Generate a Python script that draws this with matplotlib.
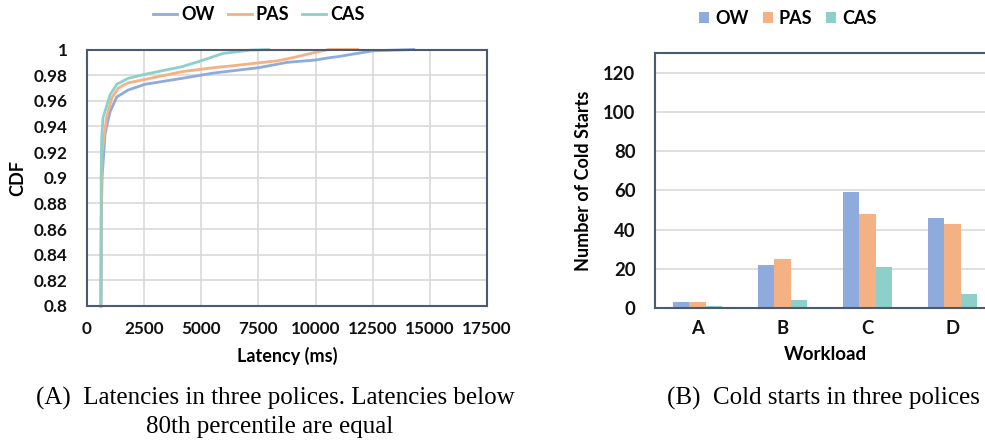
import matplotlib
matplotlib.use("Agg")
import matplotlib.pyplot as plt
from matplotlib.lines import Line2D
from matplotlib.patches import Patch

# ---------------- data ----------------
policies = ["OW", "PAS", "CAS"]
colors = ["#8faadc", "#f4b183", "#8dd0c9"]

ow_latency = [610, 630, 658, 790, 921, 1009, 1303, 1798, 2544, 4154, 5526, 7500, 8772, 10000, 10570, 10965, 11842, 12544, 14298]
ow_cdf = [0.80, 0.87, 0.90, 0.934, 0.945, 0.9515, 0.963, 0.9684, 0.9729, 0.9775, 0.9816, 0.9858, 0.990, 0.9918, 0.9935, 0.9944, 0.997, 0.999, 1.0]

pas_latency = [610, 625, 660, 864, 1083, 1373, 1800, 2544, 4154, 5526, 6404, 8377, 8991, 10000, 10570, 11842]
pas_cdf = [0.80, 0.87, 0.92, 0.9476, 0.962, 0.970, 0.974, 0.9767, 0.9827, 0.9858, 0.9874, 0.9913, 0.9936, 0.9978, 1.0, 1.0]

cas_latency = [610, 620, 640, 702, 1009, 1303, 1798, 2544, 4154, 4868, 5526, 5965, 7150, 7939]
cas_cdf = [0.80, 0.90, 0.93, 0.947, 0.9645, 0.9729, 0.9775, 0.9807, 0.9866, 0.9905, 0.9944, 0.997, 0.9995, 1.0]

workloads = ["A", "B", "C", "D"]
ow_cold = [3, 22, 59, 46]
pas_cold = [3, 25, 48, 43]
cas_cold = [1, 4, 21, 7]

# ---------------- figure ----------------
W, H = 985, 443
fig = plt.figure(figsize=(W / 100, H / 100), dpi=100)
sans = ["Lato", "DejaVu Sans"]
serif = ["Liberation Serif", "DejaVu Serif"]
spine_c = "#4b5a70"
grid_c = "#d9d9d9"

def fx(px):
    return px / W

def fy(py):
    return 1 - py / H

# ---- left: CDF ----
ax1 = fig.add_axes([fx(87), fy(306), fx(487) - fx(87), fy(49.5) - fy(306)])
for lat, cdf, c in zip([ow_latency, pas_latency, cas_latency], [ow_cdf, pas_cdf, cas_cdf], colors):
    ax1.plot(lat, cdf, color=c, lw=2.0, clip_on=False, zorder=2)
ax1.set_xlim(0, 17500)
ax1.set_ylim(0.8, 1.0)
ax1.set_xticks(range(0, 17501, 2500))
yt = [0.8 + 0.02 * i for i in range(11)]
ax1.set_yticks(yt)
ax1.set_yticklabels(["0.8", "0.82", "0.84", "0.86", "0.88", "0.9", "0.92", "0.94", "0.96", "0.98", "1"])
ax1.grid(True, color=grid_c, lw=1.2, zorder=0)
ax1.set_axisbelow(True)
ax1.tick_params(length=0, labelsize=12.3, colors="#111111")
ax1.tick_params(axis="y", pad=14)
ax1.tick_params(axis="x", pad=11)
for lab in ax1.get_xticklabels() + ax1.get_yticklabels():
    lab.set_fontweight("bold")
    lab.set_family(sans)
for s in ax1.spines.values():
    s.set_color(spine_c)
    s.set_linewidth(1.5)
    s.set_zorder(3)
ax1.set_xlabel("Latency (ms)", fontsize=13, fontweight="bold", family=sans, labelpad=7)
ax1.set_ylabel("CDF", fontsize=13, fontweight="bold", family=sans, labelpad=5)

handles1 = [Line2D([0], [0], color=c, lw=2.0) for c in colors]
fig.legend(handles1, policies, loc="center", bbox_to_anchor=(fx(259), fy(15)), ncol=3, frameon=False,
           prop={"family": sans, "weight": "bold", "size": 13}, handlelength=1.33, handletextpad=0.22,
           columnspacing=0.72)

# ---- right: bars ----
ax2 = fig.add_axes([fx(655), fy(308), fx(995) - fx(655), fy(53) - fy(308)])
x = list(range(len(workloads)))
bw = 0.19
for i, (vals, c) in enumerate(zip([ow_cold, pas_cold, cas_cold], colors)):
    ax2.bar([xi + (i - 1) * bw for xi in x], vals, width=bw, color=c, zorder=2)
ax2.set_xlim(-0.5, 3.5)
ax2.set_ylim(0, 130)
ax2.set_yticks(range(0, 121, 20))
ax2.set_xticks(x)
ax2.set_xticklabels(workloads)
ax2.yaxis.grid(True, color=grid_c, lw=1.2, zorder=0)
ax2.set_axisbelow(True)
ax2.tick_params(length=0, labelsize=13.3, colors="#111111")
ax2.tick_params(axis="y", pad=14)
ax2.tick_params(axis="x", pad=9)
for lab in ax2.get_xticklabels() + ax2.get_yticklabels():
    lab.set_fontweight("bold")
    lab.set_family(sans)
for s in ax2.spines.values():
    s.set_color(spine_c)
    s.set_linewidth(1.5)
ax2.set_xlabel("Workload", fontsize=13.5, fontweight="bold", family=sans, labelpad=6)
ax2.set_ylabel("Number of Cold Starts", fontsize=13, fontweight="bold", family=sans, labelpad=8)

handles2 = [Patch(facecolor=c) for c in colors]
fig.legend(handles2, policies, loc="center", bbox_to_anchor=(fx(788), fy(18)), ncol=3, frameon=False,
           prop={"family": sans, "weight": "bold", "size": 13}, handlelength=0.55, handleheight=0.55,
           handletextpad=0.33, columnspacing=0.78)

# ---- captions ----
fig.text(fx(275), fy(398), "(A)  Latencies in three polices. Latencies below", ha="center", va="center",
         family=serif, fontsize=18)
fig.text(fx(270), fy(427), "80th percentile are equal", ha="center", va="center", family=serif, fontsize=18)
fig.text(fx(823), fy(398), "(B)  Cold starts in three polices", ha="center", va="center", family=serif, fontsize=18)

fig.savefig("out.png", dpi=100)
